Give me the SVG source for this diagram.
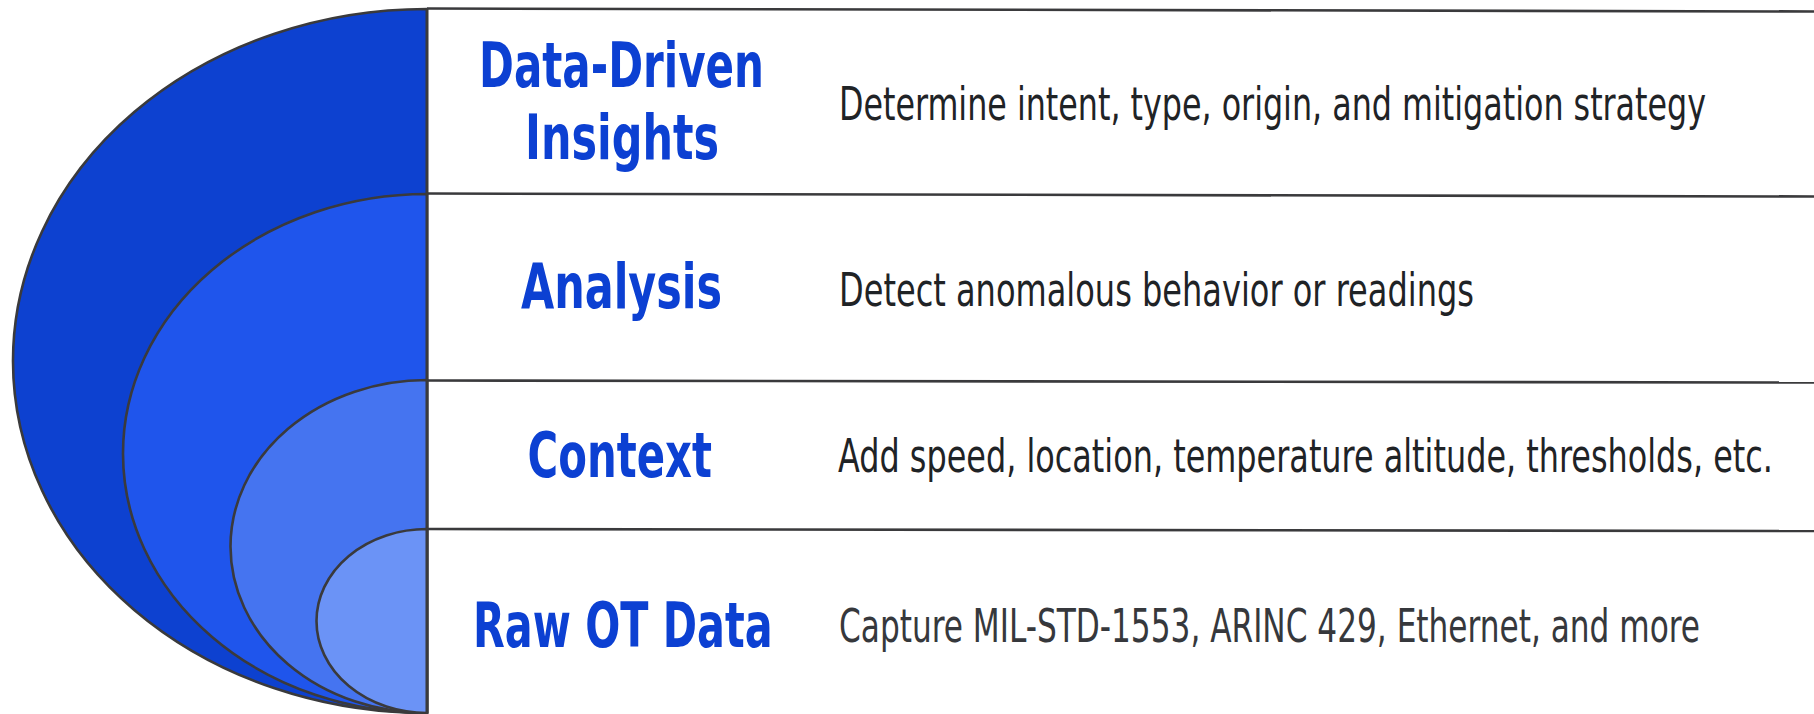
<svg xmlns="http://www.w3.org/2000/svg" width="1814" height="714" viewBox="0 0 1814 714">
<style>
.arc{stroke:#3a3a3c;stroke-width:2.6;stroke-linejoin:round}
.ln{stroke:#3a3a3c;stroke-width:2.6;fill:none}
.title{font-family:"Liberation Sans Narrow","DejaVu Sans Condensed","Liberation Sans",sans-serif;font-stretch:condensed;font-weight:bold;font-size:63px;fill:#0c40d2;text-anchor:start}
.desc{font-family:"DejaVu Sans Condensed","Liberation Sans Narrow","Liberation Sans",sans-serif;font-stretch:condensed;font-size:35px;fill:#1f2326}
</style>
<rect width="1814" height="714" fill="#ffffff"/>
<g id="layer-insights">
<path class="arc" d="M427 9 A414 352 0 0 0 427 713 Z" fill="#0d41d0"/>
<text class="title" x="479" y="87" textLength="285" lengthAdjust="spacingAndGlyphs">Data-Driven</text>
<text class="title" x="525" y="159" textLength="194" lengthAdjust="spacingAndGlyphs">Insights</text>
<text class="desc" transform="translate(839 120) scale(1 1.3)" x="0" y="0" textLength="867" lengthAdjust="spacingAndGlyphs">Determine intent, type, origin, and mitigation strategy</text>
</g>
<g id="layer-analysis">
<path class="arc" d="M427 194 A304 259.5 0 0 0 427 713 Z" fill="#1f55ec"/>
<text class="title" x="521" y="308" textLength="201" lengthAdjust="spacingAndGlyphs">Analysis</text>
<text class="desc" transform="translate(839 306) scale(1 1.3)" x="0" y="0" textLength="635" lengthAdjust="spacingAndGlyphs">Detect anomalous behavior or readings</text>
</g>
<g id="layer-context">
<path class="arc" d="M427 380 A196.5 166.5 0 0 0 427 713 Z" fill="#4574f0"/>
<text class="title" x="527.5" y="477" textLength="184.5" lengthAdjust="spacingAndGlyphs">Context</text>
<text class="desc" transform="translate(838 472) scale(1 1.3)" x="0" y="0" textLength="935" lengthAdjust="spacingAndGlyphs">Add speed, location, temperature altitude, thresholds, etc.</text>
</g>
<g id="layer-raw">
<path class="arc" d="M427 529 A110.5 92 0 0 0 427 713 Z" fill="#6b93f6"/>
<text class="title" x="473" y="647" textLength="299.5" lengthAdjust="spacingAndGlyphs">Raw OT Data</text>
<text class="desc" transform="translate(839 642) scale(1 1.3)" x="0" y="0" textLength="861" lengthAdjust="spacingAndGlyphs" style="fill:#36383c">Capture MIL-STD-1553, ARINC 429, Ethernet, and more</text>
</g>
<g id="connectors">
<line class="ln" x1="427" y1="8.5" x2="1814" y2="11.5"/>
<line class="ln" x1="427" y1="193.5" x2="1814" y2="196.5"/>
<line class="ln" x1="427" y1="380.5" x2="1814" y2="382.5"/>
<line class="ln" x1="427" y1="529" x2="1814" y2="531"/>
<line class="ln" x1="427" y1="8.5" x2="427" y2="714"/>
</g>
</svg>
